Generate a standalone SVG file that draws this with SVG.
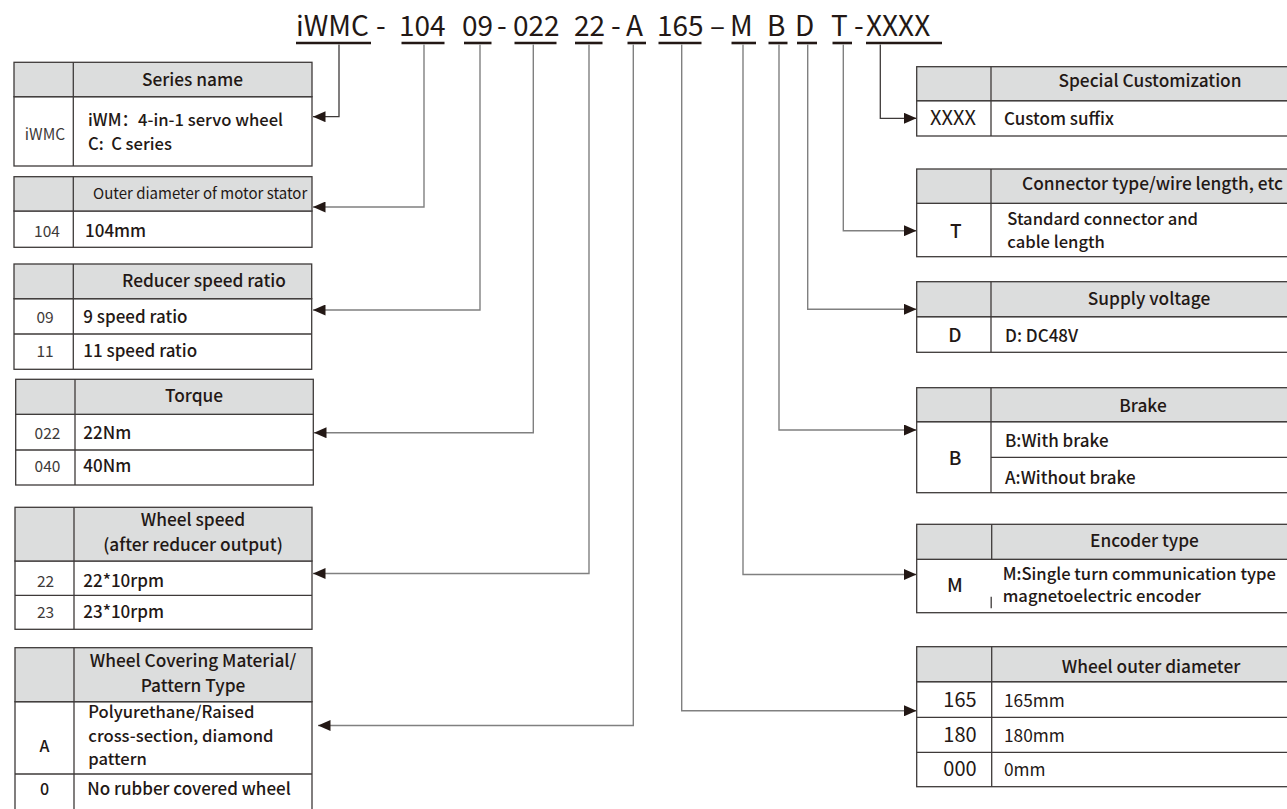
<svg xmlns="http://www.w3.org/2000/svg" width="1287" height="809" viewBox="0 0 1287 809">
<style>
text { font-family: "Noto Sans CJK SC", "Noto Sans", sans-serif; fill: #231815; }
.ttl { font-size: 28px; }
.ul { stroke: #231815; stroke-width: 2.6; }
.hd { fill: #dcdddd; stroke: #3e3a39; stroke-width: 1.3; }
.bd { fill: #ffffff; stroke: #3e3a39; stroke-width: 1.3; }
.ln { stroke: #3e3a39; stroke-width: 1.3; fill: none; }
.h { font-size: 17.3px; font-weight: 500; text-anchor: middle; }
.hs { font-size: 15px; }
.d { font-size: 17px; font-weight: 500; }
.dm { font-size: 16.6px; font-weight: 500; }
.ds { font-size: 17.3px; }
.c { font-size: 15.5px; text-anchor: middle; fill: #3e3a39; }
.cb { font-size: 16px; font-weight: 500; text-anchor: middle; }
.k { font-size: 19px; font-weight: 500; text-anchor: middle; }
.kn { font-size: 20px; text-anchor: middle; }
.con { stroke: #808080; stroke-width: 1.4; fill: none; }
.cond { stroke: #3e3a39; stroke-width: 1.3; fill: none; }
</style>
<defs>
<marker id="ah" markerUnits="userSpaceOnUse" markerWidth="13" markerHeight="11" refX="12.5" refY="5.5" orient="auto">
<path d="M0,0 L12.5,5.5 L0,11 Z" fill="#231815"/>
</marker>
</defs>
<rect width="1287" height="809" fill="#ffffff"/>

<g id="title">
<text class="ttl" x="296" y="35.5">iWMC</text>
<text class="ttl" x="376" y="35.5">-</text>
<text class="ttl" x="399" y="35.5">104</text>
<text class="ttl" x="462" y="35.5">09</text>
<text class="ttl" x="497" y="35.5">-</text>
<text class="ttl" x="513" y="35.5">022</text>
<text class="ttl" x="574" y="35.5">22</text>
<text class="ttl" x="611" y="35.5">-</text>
<text class="ttl" x="626" y="35.5">A</text>
<text class="ttl" x="657" y="35.5">165</text>
<text class="ttl" x="710" y="35.5">–</text>
<text class="ttl" x="730" y="35.5">M</text>
<text class="ttl" x="767" y="35.5">B</text>
<text class="ttl" x="795" y="35.5">D</text>
<text class="ttl" x="831" y="35.5">T</text>
<text class="ttl" x="854" y="35.5">-</text>
<text class="ttl" x="866" y="35.5">XXXX</text>
<line class="ul" x1="296" y1="43" x2="371" y2="43"/>
<line class="ul" x1="401.5" y1="43" x2="444.5" y2="43"/>
<line class="ul" x1="464" y1="43" x2="491.5" y2="43"/>
<line class="ul" x1="514.5" y1="43" x2="556.5" y2="43"/>
<line class="ul" x1="575" y1="43" x2="602.5" y2="43"/>
<line class="ul" x1="627.5" y1="43" x2="646" y2="43"/>
<line class="ul" x1="658.5" y1="43" x2="701.5" y2="43"/>
<line class="ul" x1="731.5" y1="43" x2="756" y2="43"/>
<line class="ul" x1="768.5" y1="43" x2="787.5" y2="43"/>
<line class="ul" x1="797" y1="43" x2="817" y2="43"/>
<line class="ul" x1="832.5" y1="43" x2="852" y2="43"/>
<line class="ul" x1="866" y1="43" x2="942" y2="43"/>
</g>

<g id="connectors">
<polyline class="cond" points="339,44.5 339,116.7 313,116.7" marker-end="url(#ah)"/>
<polyline class="con" points="424,44.5 424,207 313,207" marker-end="url(#ah)"/>
<polyline class="con" points="480,44.5 480,310 313,310" marker-end="url(#ah)"/>
<polyline class="con" points="533.3,44.5 533.3,432.7 314,432.7" marker-end="url(#ah)"/>
<polyline class="con" points="589,44.5 589,573.5 313,573.5" marker-end="url(#ah)"/>
<polyline class="con" points="633.3,44.5 633.3,725.5 318,725.5" marker-end="url(#ah)"/>
<polyline class="con" points="681.7,44.5 681.7,710.8 916.5,710.8" marker-end="url(#ah)"/>
<polyline class="con" points="743,44.5 743,574.5 916.5,574.5" marker-end="url(#ah)"/>
<polyline class="con" points="779,44.5 779,430 916.5,430" marker-end="url(#ah)"/>
<polyline class="con" points="807.7,44.5 807.7,309.3 916.5,309.3" marker-end="url(#ah)"/>
<polyline class="con" points="843.3,44.5 843.3,230.7 916.5,230.7" marker-end="url(#ah)"/>
<polyline class="cond" points="880.3,44.5 880.3,118.3 916.5,118.3" marker-end="url(#ah)"/>
</g>

<g id="series-name">
<rect class="bd" x="14" y="96.7" width="298" height="69.3"/>
<rect class="hd" x="14" y="62.3" width="298" height="34.4"/>
<line class="ln" x1="73.3" y1="62.3" x2="73.3" y2="166"/>
<text class="h" x="192.5" y="85.7">Series name</text>
<text class="c" x="45" y="140">iWMC</text>
<text class="dm" x="88" y="125.5" textLength="195" lengthAdjust="spacing">iWM：4-in-1 servo wheel</text>
<text class="dm" x="88" y="150">C:&#160; C series</text>
</g>

<g id="stator-diameter">
<rect class="bd" x="14" y="211" width="298" height="36.3"/>
<rect class="hd" x="14" y="176.7" width="298" height="34.3"/>
<line class="ln" x1="73.3" y1="176.7" x2="73.3" y2="247.3"/>
<text class="hs" x="93" y="199">Outer diameter of motor stator</text>
<text class="c" x="47" y="236.7">104</text>
<text class="d" x="85" y="236.7">104mm</text>
</g>

<g id="speed-ratio">
<rect class="bd" x="14" y="298.7" width="297.7" height="70.6"/>
<rect class="hd" x="14" y="264" width="297.7" height="34.7"/>
<line class="ln" x1="73.3" y1="264" x2="73.3" y2="369.3"/>
<line class="ln" x1="14" y1="334" x2="311.7" y2="334"/>
<text class="h" x="204" y="287.3">Reducer speed ratio</text>
<text class="c" x="45" y="322.7">09</text>
<text class="d" x="83.3" y="322.7">9 speed ratio</text>
<text class="c" x="45" y="357.3">11</text>
<text class="d" x="83.3" y="357.3">11 speed ratio</text>
</g>

<g id="torque">
<rect class="bd" x="15.7" y="414.3" width="297.6" height="70.7"/>
<rect class="hd" x="15.7" y="379.3" width="297.6" height="35"/>
<line class="ln" x1="75" y1="379.3" x2="75" y2="485"/>
<line class="ln" x1="15.7" y1="450" x2="313.3" y2="450"/>
<text class="h" x="194" y="401.7">Torque</text>
<text class="c" x="47.5" y="439.3">022</text>
<text class="d" x="83.3" y="439.3">22Nm</text>
<text class="c" x="47.5" y="471.7">040</text>
<text class="d" x="83.3" y="471.7">40Nm</text>
</g>

<g id="wheel-speed">
<rect class="bd" x="15" y="561" width="297" height="68.3"/>
<rect class="hd" x="15" y="507.3" width="297" height="53.7"/>
<line class="ln" x1="74" y1="507.3" x2="74" y2="629.3"/>
<line class="ln" x1="15" y1="595.3" x2="312" y2="595.3"/>
<text class="h" x="193" y="526">Wheel speed</text>
<text class="h" x="193" y="550.7">(after reducer output)</text>
<text class="c" x="45.5" y="586.7">22</text>
<text class="d" x="83.3" y="586.7">22*10rpm</text>
<text class="c" x="45.5" y="618.3">23</text>
<text class="d" x="83.3" y="618.3">23*10rpm</text>
</g>

<g id="wheel-covering">
<rect class="bd" x="15" y="701.7" width="297" height="110"/>
<rect class="hd" x="15" y="647.7" width="297" height="54"/>
<line class="ln" x1="74" y1="647.7" x2="74" y2="812"/>
<line class="ln" x1="15" y1="774" x2="312" y2="774"/>
<text class="h" x="193" y="667.3">Wheel Covering Material/</text>
<text class="h" x="193" y="691.7">Pattern Type</text>
<text class="cb" x="44.5" y="751.7">A</text>
<text class="dm" x="88.3" y="717.5">Polyurethane/Raised</text>
<text class="dm" x="88.3" y="741.5">cross-section, diamond</text>
<text class="dm" x="88.3" y="764.5">pattern</text>
<text class="cb" x="44.5" y="795">0</text>
<text class="d" x="87.3" y="795">No rubber covered wheel</text>
</g>

<g id="special-customization">
<rect class="bd" x="916.7" y="100.7" width="380" height="35.3"/>
<rect class="hd" x="916.7" y="66.7" width="380" height="34"/>
<line class="ln" x1="991" y1="66.7" x2="991" y2="136"/>
<text class="h" x="1150" y="87.3">Special Customization</text>
<text class="kn" x="953" y="125">XXXX</text>
<text class="d" x="1004" y="125">Custom suffix</text>
</g>

<g id="connector-type">
<rect class="bd" x="916.7" y="203.3" width="380" height="53.4"/>
<rect class="hd" x="916.7" y="169" width="380" height="34.3"/>
<line class="ln" x1="991" y1="169" x2="991" y2="256.7"/>
<text class="h" x="1152.5" y="190">Connector type/wire length, etc</text>
<text class="k" x="955.7" y="237.7">T</text>
<text class="dm" x="1007.3" y="225">Standard connector and</text>
<text class="dm" x="1007.3" y="248">cable length</text>
</g>

<g id="supply-voltage">
<rect class="bd" x="916.7" y="316.7" width="380" height="35.6"/>
<rect class="hd" x="916.7" y="281.7" width="380" height="35"/>
<line class="ln" x1="991" y1="281.7" x2="991" y2="352.3"/>
<text class="h" x="1149" y="305">Supply voltage</text>
<text class="k" x="955" y="342.3">D</text>
<text class="d" x="1005" y="342.3">D: DC48V</text>
</g>

<g id="brake">
<rect class="bd" x="916.7" y="421.7" width="380" height="71"/>
<rect class="hd" x="916.7" y="387.7" width="380" height="34"/>
<line class="ln" x1="991" y1="387.7" x2="991" y2="492.7"/>
<line class="ln" x1="991" y1="457.3" x2="1296.7" y2="457.3"/>
<text class="h" x="1143" y="411.7">Brake</text>
<text class="k" x="955" y="465">B</text>
<text class="d" x="1005" y="446.7">B:With brake</text>
<text class="d" x="1005" y="484.3">A:Without brake</text>
</g>

<g id="encoder-type">
<rect class="bd" x="916.7" y="559.3" width="380" height="53.4"/>
<rect class="hd" x="916.7" y="524.3" width="380" height="35"/>
<line class="ln" x1="991.7" y1="524.3" x2="991.7" y2="559.3"/>
<line class="ln" x1="991.2" y1="596.7" x2="991.2" y2="608.3"/>
<text class="h" x="1144.5" y="546.7">Encoder type</text>
<text class="k" x="955" y="591.7">M</text>
<text class="dm" x="1002.7" y="579.5">M:Single turn communication type</text>
<text class="dm" x="1002.7" y="601.5">magnetoelectric encoder</text>
</g>

<g id="wheel-outer-diameter">
<rect class="bd" x="916.7" y="681.7" width="380" height="105"/>
<rect class="hd" x="916.7" y="646.7" width="380" height="35"/>
<line class="ln" x1="991.7" y1="646.7" x2="991.7" y2="786.7"/>
<line class="ln" x1="916.7" y1="717.3" x2="1296.7" y2="717.3"/>
<line class="ln" x1="916.7" y1="752.3" x2="1296.7" y2="752.3"/>
<text class="h" x="1151" y="673.3">Wheel outer diameter</text>
<text class="kn" x="960" y="706.7">165</text>
<text class="ds" x="1004" y="706.7">165mm</text>
<text class="kn" x="960" y="741.7">180</text>
<text class="ds" x="1004" y="741.7">180mm</text>
<text class="kn" x="960" y="776">000</text>
<text class="ds" x="1004" y="776">0mm</text>
</g>
</svg>
